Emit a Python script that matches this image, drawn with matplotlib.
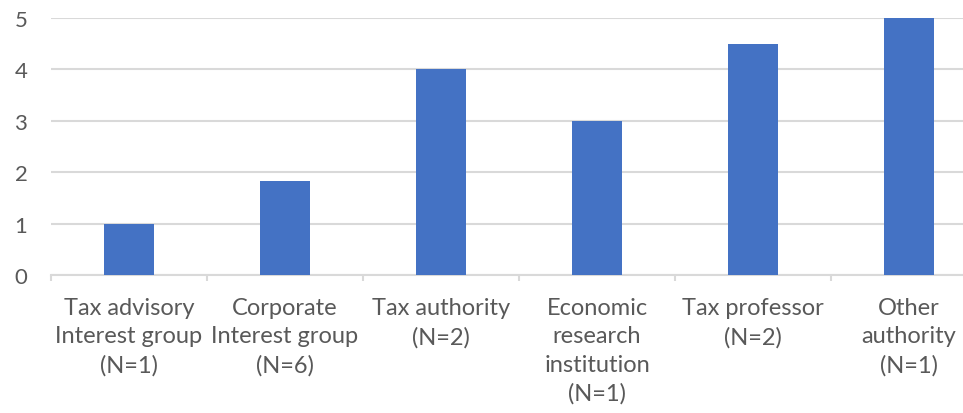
import matplotlib.pyplot as plt
import numpy as np

categories = ['Tax advisory\nInterest group\n(N=1)', 'Corporate\nInterest group\n(N=6)',
              'Tax authority\n(N=2)', 'Economic\nresearch\ninstitution\n(N=1)',
              'Tax professor\n(N=2)', 'Other\nauthority\n(N=1)']
values = [1, 1.83, 4, 3, 4.5, 5]
yticks = [0, 1, 2, 3, 4, 5]

plt.rcParams['font.family'] = ['Lato', 'DejaVu Sans']
txt = '#595959'
grid = '#d9d9d9'

fig = plt.figure(figsize=(9.63, 4.14), dpi=100)
# plot area runs past the right edge, like the cropped original
ax = fig.add_axes([51/963, 1 - 276/414, 936/963, 257/414])

x = np.arange(len(values))
ax.bar(x, values, width=0.32, color='#4472c4', zorder=3)

ax.set_xlim(-0.5, len(values) - 0.5)
ax.set_ylim(0, 5)
ax.set_yticks(yticks)
ax.yaxis.grid(True, color=grid, linewidth=1.5, zorder=0)
ax.set_xticks(x)
ax.set_xticklabels(categories, color=txt, fontsize=17, linespacing=1.42)
ax.set_xticks(np.arange(len(values) + 1) - 0.5, minor=True)
ax.tick_params(axis='x', which='major', length=0, pad=16)
ax.tick_params(axis='x', which='minor', length=4, color=grid, width=1.5)
ax.tick_params(axis='y', length=0, labelcolor=txt, labelsize=16, pad=17)

for s in ['top', 'right', 'left']:
    ax.spines[s].set_visible(False)
ax.spines['bottom'].set_color(grid)
ax.spines['bottom'].set_linewidth(1.5)

fig.savefig('out.png', dpi=100)
